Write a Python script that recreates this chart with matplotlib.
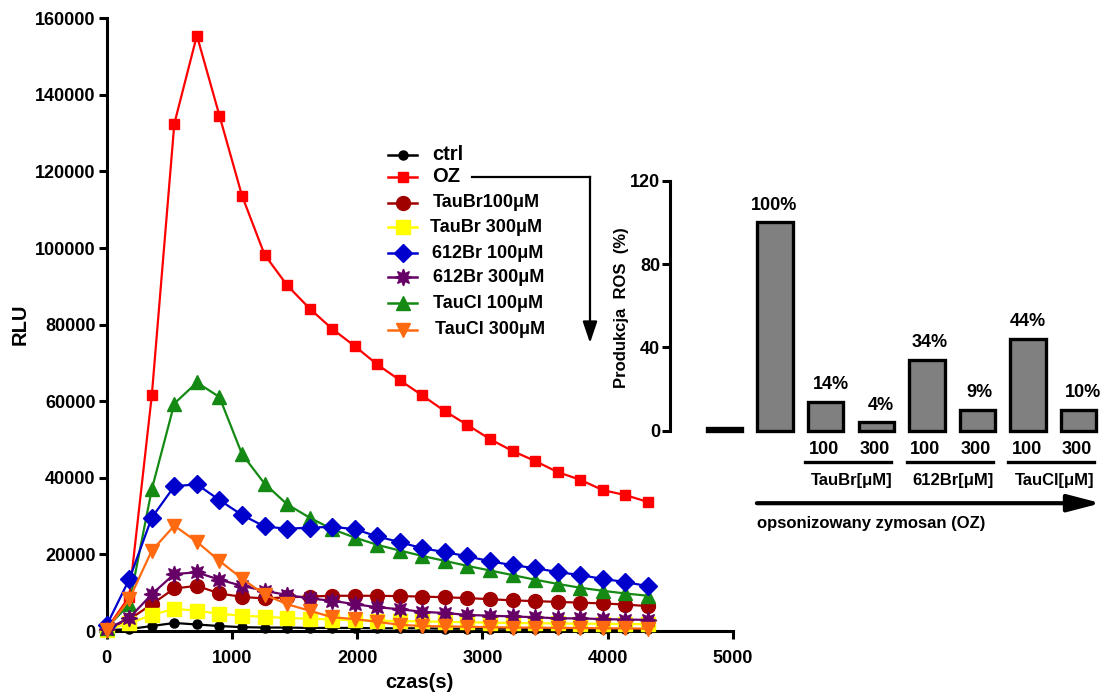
import matplotlib
matplotlib.use('Agg')
import matplotlib.pyplot as plt
from matplotlib.lines import Line2D
import matplotlib.transforms as mtransforms

plt.rcParams['font.family'] = ['Liberation Sans', 'DejaVu Sans']
plt.rcParams['font.weight'] = 'bold'
plt.rcParams['axes.labelweight'] = 'bold'

# ---------------- data: kinetics (RLU vs time) ----------------
time_s = [0, 180, 360, 540, 720, 900, 1080, 1260, 1440, 1620, 1800, 1980, 2160,
          2340, 2520, 2700, 2880, 3060, 3240, 3420, 3600, 3780, 3960, 4140, 4320]

ctrl = [200, 500, 1300, 2100, 1700, 1300, 1000, 900, 900, 800, 800, 800, 700,
        700, 700, 600, 600, 600, 600, 500, 500, 500, 500, 500, 500]
oz = [500, 9000, 61500, 132500, 155500, 134600, 113700, 98300, 90300, 84200, 78900, 74400, 69600,
      65500, 61500, 57400, 53800, 50100, 47000, 44400, 41500, 39500, 36800, 35500, 33700]
taubr_100 = [500, 3000, 7000, 11100, 11800, 9800, 8900, 8500, 8800, 9000, 9200, 9200, 9200,
             9100, 9000, 8800, 8600, 8300, 8000, 7800, 7600, 7400, 7200, 6900, 6500]
taubr_300 = [300, 2000, 4200, 5800, 5300, 4500, 4000, 3700, 3400, 3200, 3000, 2800, 2700,
             2600, 2500, 2400, 2300, 2200, 2100, 2000, 2000, 1900, 1900, 1800, 1800]
br612_100 = [1500, 13500, 29600, 37800, 38300, 34200, 30300, 27300, 26700, 27000, 27200, 26600, 24700,
             23200, 21600, 20600, 19500, 18200, 17200, 16400, 15400, 14600, 13600, 12800, 11700]
br612_300 = [500, 3400, 9600, 14900, 15300, 13400, 11800, 10500, 9400, 8500, 7900, 7000, 6200,
             5700, 5000, 4700, 4200, 4000, 3800, 3600, 3300, 3300, 3100, 3000, 2900]
taucl_100 = [800, 7000, 37000, 59400, 64900, 61100, 46200, 38500, 33100, 29600, 26600, 24400, 22500,
             21000, 19600, 18300, 17000, 15800, 14600, 13400, 12300, 11300, 10500, 9800, 9200]
taucl_300 = [300, 8300, 21000, 27500, 23300, 18300, 13700, 9500, 7000, 5300, 3600, 3100, 2400,
             1600, 1300, 1200, 1100, 1000, 900, 900, 800, 800, 700, 700, 600]

series_labels = ['ctrl', 'OZ', 'TauBr100\u03bcM', 'TauBr 300\u03bcM', '612Br 100\u03bcM',
                 '612Br 300\u03bcM', 'TauCl 100\u03bcM', 'TauCl 300\u03bcM']
series_values = [ctrl, oz, taubr_100, taubr_300, br612_100, br612_300, taucl_100, taucl_300]

x_ticks = [0, 1000, 2000, 3000, 4000, 5000]
y_ticks = [0, 20000, 40000, 60000, 80000, 100000, 120000, 140000, 160000]

# ---------------- data: bar chart (ROS %) ----------------
bar_heights = [1.5, 100, 14, 4, 34, 10, 44, 10]
bar_labels = ['', '100%', '14%', '4%', '34%', '9%', '44%', '10%']
dose_labels = ['', '', '100', '300', '100', '300', '100', '300']
group_labels = ['TauBr[\u03bcM]', '612Br[\u03bcM]', 'TauCl[\u03bcM]']
bar_y_ticks = [0, 40, 80, 120]

# ---------------- styles ----------------
styles = [
    dict(color='black', marker='o', ms=6.5, z=3.0),
    dict(color='#ff0000', marker='s', ms=7.5, z=3.1),
    dict(color='#a00000', marker='o', ms=10, z=3.2),
    dict(color='#ffff00', marker='s', ms=10.5, z=3.3),
    dict(color='#0000cc', marker='D', ms=9, z=3.5),
    dict(color='#660066', marker=(8, 1, 0), ms=12, z=3.6),
    dict(color='#148a14', marker='^', ms=10, z=3.4),
    dict(color='#ff6a10', marker='v', ms=10, z=3.7),
]

W, H = 1107, 696
fig = plt.figure(figsize=(W / 100, H / 100), dpi=100)


def fx(x):
    return x / W


def fy(y):
    return 1 - y / H


# ---------------- left: kinetics ----------------
ax = fig.add_axes([fx(106.7), fy(631), (733 - 106.7) / W, (631 - 18.3) / H])
for vals, st in zip(series_values, styles):
    ax.plot(time_s, vals, color=st['color'], marker=st['marker'], ms=st['ms'],
            mfc=st['color'], mec=st['color'], lw=1.6, zorder=st['z'], clip_on=False)
ax.set_xlim(0, 5000)
ax.set_ylim(0, 160000)
ax.set_xticks(x_ticks)
ax.set_yticks(y_ticks)
ax.set_xticklabels([str(v) for v in x_ticks])
ax.set_yticklabels([str(v) for v in y_ticks])
for s in ['top', 'right']:
    ax.spines[s].set_visible(False)
for s in ['left', 'bottom']:
    ax.spines[s].set_linewidth(2.2)
ax.tick_params(axis='both', direction='out', length=6, width=2.2, labelsize=13)
ax.tick_params(axis='y', pad=2)
ax.tick_params(axis='x', pad=8)
ax.set_ylabel('RLU', fontsize=14.5, fontweight='bold', labelpad=4)
ax.set_xlabel('czas(s)', fontsize=14.5, fontweight='bold', labelpad=4)

# legend drawn manually
leg_y = [155, 176.7, 202.7, 227.3, 253.3, 277.3, 303.3, 330]
leg_tx = [432, 432, 433, 430, 432, 433, 433, 435]
for i, (lab, st) in enumerate(zip(series_labels, styles)):
    y = leg_y[i]
    fig.add_artist(Line2D([fx(388), fx(417)], [fy(y), fy(y)], color=st['color'], lw=1.8,
                          transform=fig.transFigure))
    fig.add_artist(Line2D([fx(402.5)], [fy(y)], color=st['color'], marker=st['marker'],
                          ms=st['ms'], mfc=st['color'], mec=st['color'], lw=0,
                          transform=fig.transFigure))
    fs = 14.5 if i < 2 else 13
    fig.text(fx(leg_tx[i]), fy(y), lab, fontsize=fs, fontweight='bold', ha='left', va='center')

# arrow from OZ label down
fig.add_artist(Line2D([fx(471.7), fx(590)], [fy(176.7), fy(176.7)], color='black', lw=1.6,
                      transform=fig.transFigure))
fig.add_artist(Line2D([fx(590), fx(590)], [fy(176.7), fy(330)], color='black', lw=1.6,
                      transform=fig.transFigure))
ax.annotate('', xy=(fx(590), fy(343)), xytext=(fx(590), fy(322)), xycoords='figure fraction',
            textcoords='figure fraction',
            arrowprops=dict(arrowstyle='-|>,head_length=0.65,head_width=0.22', color='black',
                            lw=1.6, mutation_scale=20, shrinkA=0, shrinkB=0))

# ---------------- right: bar chart ----------------
ax2 = fig.add_axes([fx(670), fy(430.7), (1104 - 670) / W, (430.7 - 180.7) / H])
pos = list(range(len(bar_heights)))
ax2.bar(pos, bar_heights, width=0.7, color='#808080', edgecolor='black', linewidth=2.4,
        clip_on=False, zorder=3)
ax2.set_xlim(-1.077, 7.5)
ax2.set_ylim(0, 120)
ax2.set_yticks(bar_y_ticks)
ax2.set_yticklabels([str(v) for v in bar_y_ticks])
ax2.set_xticks([])
for s in ['top', 'right', 'bottom']:
    ax2.spines[s].set_visible(False)
ax2.spines['left'].set_linewidth(2.2)
ax2.tick_params(axis='y', direction='out', length=6, width=2.2, labelsize=13, pad=1)
fig.text(fx(621), fy(308), 'Produkcja  ROS  (%)', rotation=90, fontsize=12, fontweight='bold',
         ha='center', va='center')

label_dx_px = [0, -1, 5, 5, 2.5, 2, 0, 4]
for p, h, lab, dx in zip(pos, bar_heights, bar_labels, label_dx_px):
    if lab:
        ax2.annotate(lab, xy=(p, h), xytext=(dx * 0.72, 12.5), textcoords='offset points',
                     ha='center', va='center', fontsize=13, fontweight='bold',
                     annotation_clip=False)

blend = mtransforms.blended_transform_factory(ax2.transData, ax2.transAxes)
for p, lab in zip(pos, dose_labels):
    if lab:
        ax2.text(p - 0.03, -0.075, lab, transform=blend, ha='center', va='center',
                 fontsize=13, fontweight='bold', clip_on=False)
for g, lab in enumerate(group_labels):
    a, b = pos[2 + 2 * g], pos[3 + 2 * g]
    ax2.plot([a - 0.4, b + 0.3], [-0.125, -0.125], transform=blend, color='black', lw=2.4,
             clip_on=False)
    ax2.text((a + b) / 2 + 0.02, -0.2, lab, transform=blend, ha='center', va='center',
             fontsize=12, fontweight='bold', clip_on=False)

ax2.annotate('', xy=(7.44, -0.29), xytext=(pos[1] - 0.36, -0.29), xycoords=blend,
             textcoords=blend, annotation_clip=False,
             arrowprops=dict(arrowstyle='-|>,head_length=1.0,head_width=0.26', color='black',
                             lw=3, mutation_scale=20, shrinkA=0, shrinkB=0))
ax2.text(pos[1] - 0.36, -0.37, 'opsonizowany zymosan (OZ)', transform=blend, ha='left',
         va='center', fontsize=12, fontweight='bold', clip_on=False)

fig.savefig('out.png', dpi=100)
